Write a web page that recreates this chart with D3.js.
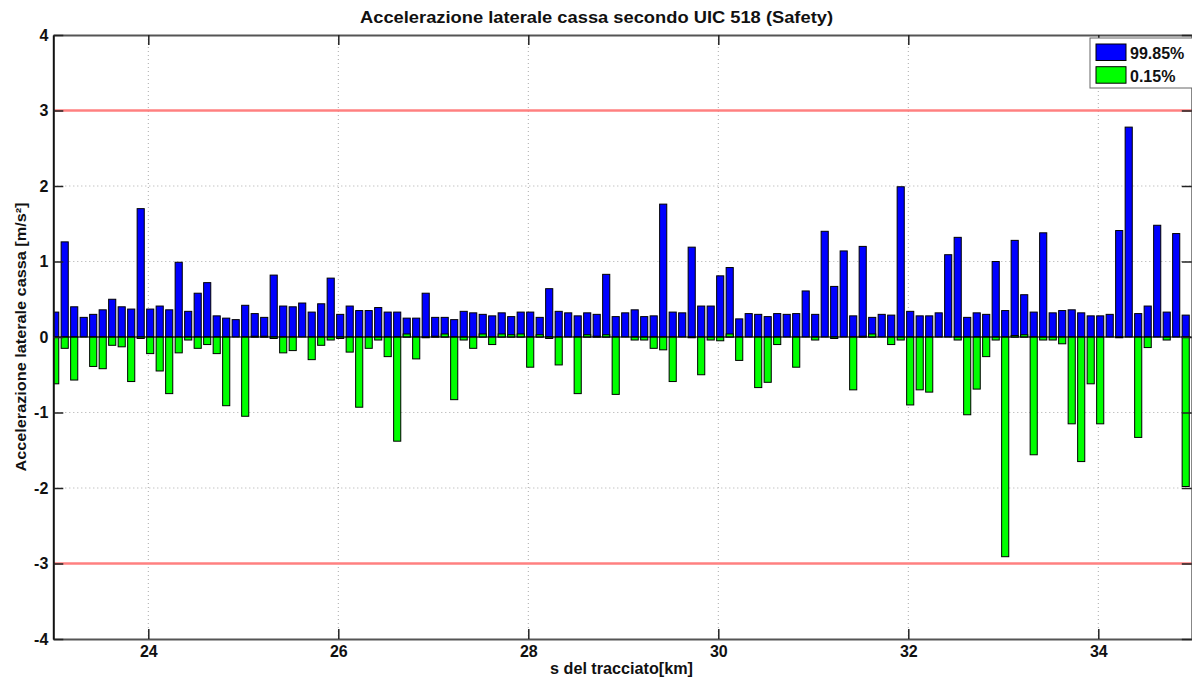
<!DOCTYPE html>
<html>
<head>
<meta charset="utf-8">
<script src="https://cdn.jsdelivr.net/npm/d3@7/dist/d3.min.js"></script>
<style>
  html, body { margin: 0; padding: 0; background: #fff; }
  svg { display: block; font-family: "Liberation Sans", Arial, sans-serif; }
</style>
</head>
<body>
<svg id="chart" width="1192" height="679"></svg>
<script>
// ---- Data ----
const title = "Accelerazione laterale cassa secondo UIC 518 (Safety)";
const xLabel = "s del tracciato[km]";
const yLabel = "Accelerazione laterale cassa [m/s²]";
const seriesNames = ["99.85%", "0.15%"];
const xTicks = [24, 26, 28, 30, 32, 34];
const yTicks = [-4, -3, -2, -1, 0, 1, 2, 3, 4];
const limits = [3, -3];
const kmStart = 23.02, kmStep = 0.1;

const p9985 = [
  0.33, 1.26, 0.40, 0.26, 0.30, 0.36, 0.50, 0.40, 0.37, 1.70,
  0.37, 0.41, 0.36, 0.99, 0.34, 0.58, 0.72, 0.28, 0.25, 0.23,
  0.42, 0.31, 0.26, 0.82, 0.41, 0.40, 0.45, 0.33, 0.44, 0.78,
  0.30, 0.41, 0.35, 0.35, 0.39, 0.33, 0.33, 0.25, 0.25, 0.58,
  0.26, 0.26, 0.23, 0.34, 0.32, 0.30, 0.28, 0.32, 0.27, 0.33,
  0.33, 0.26, 0.64, 0.34, 0.32, 0.28, 0.32, 0.30, 0.83, 0.27,
  0.32, 0.36, 0.27, 0.28, 1.76, 0.33, 0.32, 1.19, 0.41, 0.41,
  0.81, 0.92, 0.24, 0.31, 0.30, 0.27, 0.31, 0.30, 0.31, 0.61,
  0.30, 1.40, 0.67, 1.14, 0.28, 1.20, 0.26, 0.30, 0.29, 1.99,
  0.34, 0.28, 0.28, 0.32, 1.09, 1.32, 0.26, 0.32, 0.30, 1.00,
  0.35, 1.28, 0.56, 0.33, 1.38, 0.32, 0.35, 0.36, 0.32, 0.28,
  0.28, 0.30, 1.41, 2.78, 0.31, 0.41, 1.48, 0.33, 1.37, 0.29
];
const p015 = [
  -0.62, -0.15, -0.57, 0.00, -0.39, -0.42, -0.11, -0.13, -0.59, -0.02,
  -0.22, -0.45, -0.75, -0.21, -0.04, -0.15, -0.10, -0.22, -0.91, 0.00,
  -1.05, 0.01, 0.01, -0.02, -0.21, -0.18, 0.00, -0.30, -0.11, -0.04,
  -0.02, -0.20, -0.93, -0.15, -0.04, -0.26, -1.38, 0.04, -0.29, -0.01,
  0.01, 0.04, -0.83, -0.04, -0.15, 0.04, -0.10, 0.04, 0.03, 0.04,
  -0.40, 0.03, -0.02, -0.37, 0.00, -0.75, 0.03, 0.01, 0.03, -0.76,
  0.00, -0.04, -0.04, -0.15, -0.17, -0.59, 0.00, -0.01, -0.50, -0.04,
  -0.05, 0.04, -0.31, 0.00, -0.67, -0.60, -0.10, 0.00, -0.40, 0.00,
  -0.04, 0.00, -0.02, 0.00, -0.70, 0.01, 0.04, 0.00, -0.10, -0.04,
  -0.90, -0.70, -0.73, 0.00, 0.00, -0.04, -1.03, -0.69, -0.26, -0.04,
  -2.91, 0.02, 0.03, -1.56, -0.04, -0.04, -0.09, -1.15, -1.65, -0.62,
  -1.15, 0.00, -0.01, 0.00, -1.33, -0.14, 0.00, -0.04, 0.00, -1.98
];
const kmPos = p9985.map((_, i) => kmStart + kmStep * i);
const barWidthKm = 0.075;
const colors = ["#0000ff", "#00ff00"];

// ---- Layout ----
const W = 1192, H = 679;
const L = 53.3, R = 1193.3, T = 35, B = 639;

const svg = d3.select("#chart");
const x = d3.scaleLinear().domain([23, 35]).range([L, R]);
const y = d3.scaleLinear().domain([-4, 4]).range([B, T]);

svg.append("defs").append("clipPath").attr("id", "clip")
  .append("rect").attr("x", L).attr("y", T).attr("width", R - L).attr("height", B - T);

// Grid
const grid = svg.append("g");
grid.selectAll(".gx").data(xTicks).join("line")
  .attr("x1", d => x(d)).attr("x2", d => x(d)).attr("y1", T).attr("y2", B)
  .attr("stroke", "#aaa").attr("stroke-width", 1).attr("stroke-dasharray", "1,3");
grid.selectAll(".gy").data(yTicks.filter(d => d > -4 && d < 4)).join("line")
  .attr("x1", L).attr("x2", R).attr("y1", d => y(d)).attr("y2", d => y(d))
  .attr("stroke", "#aaa").attr("stroke-width", 1).attr("stroke-dasharray", "1,3");

// Bars
const plot = svg.append("g").attr("clip-path", "url(#clip)");
const bw = x(23 + barWidthKm) - x(23);
[p9985, p015].forEach((series, s) => {
  plot.append("g").selectAll("rect").data(series).join("rect")
    .attr("x", (d, i) => x(kmPos[i]) - bw / 2)
    .attr("width", bw)
    .attr("y", d => y(Math.max(0, d)))
    .attr("height", d => Math.abs(y(d) - y(0)))
    .attr("fill", colors[s])
    .attr("stroke", "#000").attr("stroke-width", 1);
});
// baseline
plot.append("line").attr("x1", L).attr("x2", R).attr("y1", y(0)).attr("y2", y(0))
  .attr("stroke", "#000").attr("stroke-width", 1);

// Limit lines
plot.selectAll(".lim").data(limits).join("line")
  .attr("x1", L).attr("x2", R).attr("y1", d => y(d)).attr("y2", d => y(d))
  .attr("stroke", "#ff8080").attr("stroke-width", 2.5);

// Axes (MATLAB-style inward ticks, box)
const axisColor = "#555";
const tickLen = 10;
const fmt = d => String(d);
const axB = svg.append("g").attr("transform", `translate(0,${B})`)
  .call(d3.axisBottom(x).tickValues(xTicks).tickSizeInner(-tickLen).tickSizeOuter(0).tickPadding(7).tickFormat(fmt));
const axT = svg.append("g").attr("transform", `translate(0,${T})`)
  .call(d3.axisTop(x).tickValues(xTicks).tickSizeInner(-tickLen).tickSizeOuter(0).tickFormat(""));
const axL = svg.append("g").attr("transform", `translate(${L},0)`)
  .call(d3.axisLeft(y).tickValues(yTicks).tickSizeInner(-tickLen).tickSizeOuter(0).tickPadding(5).tickFormat(fmt));
const axR = svg.append("g").attr("transform", `translate(${R - 1.5},0)`)
  .call(d3.axisRight(y).tickValues(yTicks).tickSizeInner(-tickLen).tickSizeOuter(0).tickFormat(""));
[axB, axT, axL, axR].forEach(a => {
  a.select(".domain").attr("stroke", axisColor).attr("stroke-width", 2);
  a.selectAll(".tick line").attr("stroke", "#222").attr("stroke-width", 1.5);
  a.selectAll("text").attr("fill", "#111").attr("font-size", 16).attr("font-weight", "bold")
    .attr("font-family", "'Liberation Sans', Arial, sans-serif");
});
axL.select(".domain").attr("stroke", "#111");

// Titles
svg.append("text").attr("x", 596.5).attr("y", 23).attr("text-anchor", "middle")
  .attr("font-size", 16).attr("font-weight", "bold").attr("fill", "#111")
  .attr("textLength", 473).attr("lengthAdjust", "spacingAndGlyphs").text(title);
svg.append("text").attr("x", 621.5).attr("y", 674).attr("text-anchor", "middle")
  .attr("font-size", 16).attr("font-weight", "bold").attr("fill", "#111")
  .attr("textLength", 143).attr("lengthAdjust", "spacingAndGlyphs").text(xLabel);
svg.append("text").attr("transform", `translate(26,${(T + B) / 2}) rotate(-90)`)
  .attr("text-anchor", "middle")
  .attr("font-size", 15).attr("font-weight", "bold").attr("fill", "#111")
  .attr("textLength", 269).attr("lengthAdjust", "spacingAndGlyphs").text(yLabel);

// Legend
const lg = svg.append("g");
lg.append("rect").attr("x", 1090).attr("y", 38).attr("width", 110).attr("height", 50)
  .attr("fill", "#fff").attr("stroke", "#666").attr("stroke-width", 1);
seriesNames.forEach((name, i) => {
  const yy = 44 + i * 22.7;
  lg.append("rect").attr("x", 1096).attr("y", yy).attr("width", 30).attr("height", 16.5)
    .attr("fill", colors[i]).attr("stroke", "#000").attr("stroke-width", 1);
  lg.append("text").attr("x", 1130).attr("y", yy + 15).attr("font-size", 16)
    .attr("font-weight", "bold").attr("fill", "#111").text(name);
});
</script>
</body>
</html>
